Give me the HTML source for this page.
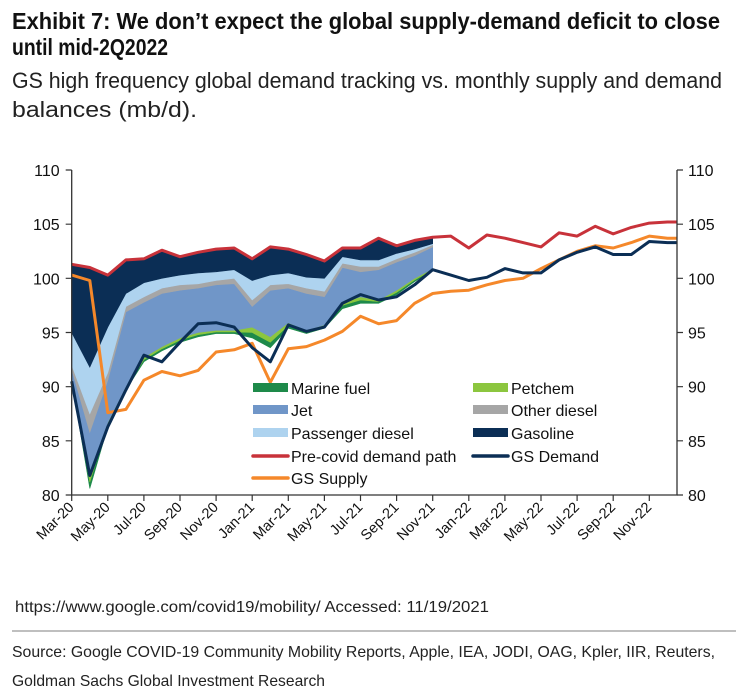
<!DOCTYPE html>
<html><head><meta charset="utf-8"><style>
html,body{margin:0;padding:0;background:#fff;}
svg{display:block;font-family:"Liberation Sans Narrow","Liberation Sans",sans-serif;}
</style></head><body>
<svg id="chart" width="746" height="697" viewBox="0 0 746 697" xmlns="http://www.w3.org/2000/svg">
<text x="12" y="29" font-size="23" font-weight="bold" fill="#111" textLength="708" lengthAdjust="spacingAndGlyphs">Exhibit 7: We don’t expect the global supply-demand deficit to close</text>
<text x="12" y="55" font-size="23" font-weight="bold" fill="#111" textLength="156" lengthAdjust="spacingAndGlyphs">until mid-2Q2022</text>
<text x="12" y="88" font-size="22" fill="#222" textLength="710" lengthAdjust="spacingAndGlyphs">GS high frequency global demand tracking vs. monthly supply and demand</text>
<text x="12" y="117" font-size="22" fill="#222" textLength="185" lengthAdjust="spacingAndGlyphs">balances (mb/d).</text>
<g id="plot"></g>
<text x="15" y="612" font-size="15.5" fill="#222" textLength="474" lengthAdjust="spacingAndGlyphs">https://www.google.com/covid19/mobility/ Accessed: 11/19/2021</text>
<line x1="12" y1="631" x2="736" y2="631" stroke="#aaa" stroke-width="1.5"/>
<text x="12" y="657" font-size="16" fill="#222" textLength="703" lengthAdjust="spacingAndGlyphs">Source: Google COVID-19 Community Mobility Reports, Apple, IEA, JODI, OAG, Kpler, IIR, Reuters,</text>
<text x="12" y="686" font-size="16" fill="#222" textLength="313" lengthAdjust="spacingAndGlyphs">Goldman Sachs Global Investment Research</text>
</svg>
<script>
const months = ["Mar-20","Apr-20","May-20","Jun-20","Jul-20","Aug-20","Sep-20","Oct-20","Nov-20","Dec-20","Jan-21","Feb-21","Mar-21","Apr-21","May-21","Jun-21","Jul-21","Aug-21","Sep-21","Oct-21","Nov-21","Dec-21","Jan-22","Feb-22","Mar-22","Apr-22","May-22","Jun-22","Jul-22","Aug-22","Sep-22","Oct-22","Nov-22","Dec-22"];
const preCovid = [101.3,101.0,100.3,101.7,101.8,102.6,102.0,102.4,102.7,102.8,101.8,102.9,102.7,102.2,101.6,102.8,102.8,103.7,103.0,103.5,103.8,103.9,102.8,104.0,103.7,103.3,102.9,104.2,103.9,104.8,104.1,104.7,105.1,105.2];
const gsDemand = [90.5,81.8,86.3,89.7,92.9,92.3,94.1,95.8,95.9,95.5,93.6,92.3,95.7,95.1,95.5,97.7,98.5,98.0,98.3,99.4,100.8,100.3,99.8,100.1,100.9,100.5,100.5,101.7,102.4,102.9,102.2,102.2,103.4,103.3];
const gsSupply = [100.3,99.8,87.6,87.9,90.6,91.4,91.0,91.5,93.2,93.4,94.0,90.4,93.5,93.7,94.3,95.1,96.5,95.8,96.1,97.7,98.6,98.8,98.9,99.4,99.8,100.0,100.9,101.7,102.5,103.0,102.8,103.3,103.9,103.7];
const stackBase = [90.5,80.6,86.3,89.7,92.3,93.3,94.1,94.6,94.9,94.9,94.5,93.6,95.4,94.9,95.4,97.2,97.7,97.7,98.5,99.7,100.7];
const marineFuel = [0.15,0.6,0.2,0.15,0.2,0.2,0.2,0.2,0.15,0.15,0.5,0.5,0.25,0.15,0.15,0.3,0.3,0.15,0.2,0.15,0.1];
const petchem = [0.15,0.6,0.2,0.15,0.2,0.2,0.2,0.2,0.15,0.15,0.5,0.5,0.25,0.15,0.15,0.3,0.3,0.15,0.2,0.15,0.1];
const jet = [0.8,4.0,3.9,6.9,5.1,4.9,4.4,4.1,4.2,4.3,1.9,4.3,3.2,3.4,2.6,3.2,2.3,2.8,2.6,2.1,2.0];
const otherDiesel = [0.4,1.7,0.7,0.5,0.5,0.5,0.5,0.4,0.4,0.5,0.6,0.5,0.4,0.5,0.5,0.4,0.5,0.3,0.3,0.3,0.2];
const passengerDiesel = [3.0,4.3,4.2,1.2,1.3,0.9,0.9,1.0,0.8,0.8,1.8,0.9,1.0,1.0,1.2,0.6,0.6,0.6,0.5,0.3,0.1];
const gasoline = [6.3,9.2,4.8,3.1,2.2,2.6,1.7,1.9,2.1,2.0,2.0,2.6,2.2,2.1,1.6,0.8,1.1,2.0,0.7,0.8,0.6];
const yTicks = [80,85,90,95,100,105,110];

const NS="http://www.w3.org/2000/svg";
const plot=document.getElementById('plot');
const X0=71.7, DX=18.05, Y0=170, YMIN=80, YMAX=110, YH=325, XR=677;
function xs(i){return X0+i*DX;}
function ys(v){return Y0+(YMAX-v)/(YMAX-YMIN)*YH;}
function mk(tag,attrs){const e=document.createElementNS(NS,tag);for(const k in attrs)e.setAttribute(k,attrs[k]);plot.appendChild(e);return e;}

const layers=[["marine-fuel-area",marineFuel,"#1e8a4a"],["petchem-area",petchem,"#8cc63f"],["jet-area",jet,"#7096c8"],["other-diesel-area",otherDiesel,"#a6a6a6"],["passenger-diesel-area",passengerDiesel,"#aed3ef"],["gasoline-area",gasoline,"#0b2e55"]];
let cum=stackBase.slice();
layers.forEach(([name,arr,col])=>{
  const lo=cum.slice();const hi=lo.map((v,i)=>v+arr[i]);
  let d="M"+hi.map((v,i)=>xs(i).toFixed(1)+","+ys(v).toFixed(1)).join(" L");
  for(let i=lo.length-1;i>=0;i--)d+=" L"+xs(i).toFixed(1)+","+ys(lo[i]).toFixed(1);
  const p=mk('path',{d:d+"Z",fill:col,stroke:col,'stroke-width':0.6});
  
  
  cum=hi;
});

function line(arr,col,name){
  const pts=arr.map((v,i)=>xs(i).toFixed(1)+","+ys(v).toFixed(1));
  const last=arr[arr.length-1];
  pts.push(XR+","+ys(last).toFixed(1));
  const p=mk('polyline',{points:pts.join(" "),fill:"none",stroke:col,'stroke-width':3,'stroke-linejoin':'round'});
  
  
}
line(gsSupply,"#f5882a","gs-supply-line");
line(gsDemand,"#0b2e55","gs-demand-line");
line(preCovid,"#c8323a","pre-covid-demand-line");

const ax=mk('path',{d:`M${X0},${Y0} V${Y0+YH} H${XR} V${Y0}`,fill:"none",stroke:"#333",'stroke-width':1.3});


yTicks.forEach(v=>{
  const y=ys(v);
  const t=mk('path',{d:`M${X0-6},${y} H${X0} M${XR},${y} H${XR+6}`,stroke:"#333",'stroke-width':1.2});
  
  
  const l=mk('text',{x:X0-12,y:y+6,'font-size':16,'text-anchor':'end',fill:'#111'});
  l.textContent=v;
  
  
  const r=mk('text',{x:XR+11,y:y+6,'font-size':16,fill:'#111'});
  r.textContent=v;
  
  
});
for(let i=0;i<months.length;i+=2){
  const x=xs(i);
  const t=mk('line',{x1:x,y1:Y0+YH,x2:x,y2:Y0+YH+6,stroke:"#333",'stroke-width':1.2});
  
  
  const l=mk('text',{x:x+3,y:Y0+YH+13,'font-size':14.5,'text-anchor':'end',fill:'#111',transform:`rotate(-45 ${x+3} ${Y0+YH+13})`});
  l.textContent=months[i];
  
  
}

const legend=[["Marine fuel","#1e8a4a",253,388,"box"],["Petchem","#8cc63f",473,388,"box"],["Jet","#7096c8",253,410,"box"],["Other diesel","#a6a6a6",473,410,"box"],["Passenger diesel","#aed3ef",253,433,"box"],["Gasoline","#0b2e55",473,433,"box"],["Pre-covid demand path","#c8323a",253,456,"line"],["GS Demand","#0b2e55",473,456,"line"],["GS Supply","#f5882a",253,478,"line"]];
legend.forEach(([lab,col,x,y,kind])=>{
  let s;
  if(kind==="box") s=mk('rect',{x:x,y:y-5,width:35,height:9,fill:col});
  else s=mk('line',{x1:x,y1:y,x2:x+35,y2:y,stroke:col,'stroke-width':3.5,'stroke-linecap':'round'});
  
  
  const t=mk('text',{x:x+38,y:y+6,'font-size':16,fill:'#111'});
  t.textContent=lab;
  
  
});
</script>
</body></html>
